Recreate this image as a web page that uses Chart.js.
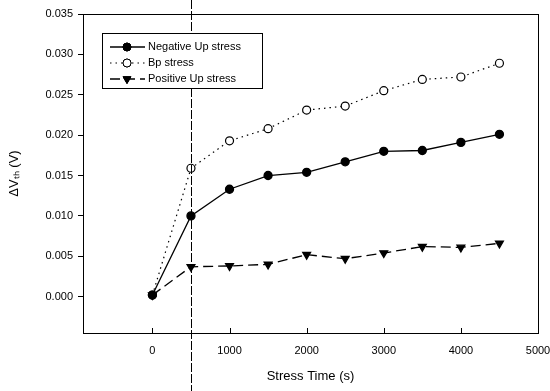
<!DOCTYPE html>
<html>
<head>
<meta charset="utf-8">
<script src="https://cdn.jsdelivr.net/npm/chart.js@4/dist/chart.umd.min.js"></script>
<style>
  html, body { margin: 0; padding: 0; background: #fff; }
  #wrap { width: 550px; height: 391px; position: relative; }
</style>
</head>
<body>
<div id="wrap"><canvas id="c"></canvas></div>
<script>
// Stress times (s)
const stressTimes = [0, 500, 1000, 1500, 2000, 2500, 3000, 3500, 4000, 4500];
// Delta Vth (V) per stress type
const negativeUp = [0.0002, 0.0100, 0.0133, 0.0150, 0.0154, 0.0167, 0.0180, 0.0181, 0.0191, 0.0201];
const bpStress = [0.0002, 0.0159, 0.0193, 0.0208, 0.0231, 0.0236, 0.0255, 0.0269, 0.0272, 0.0289];
const positiveUp = [0.0002, 0.0037, 0.0038, 0.0040, 0.0052, 0.0047, 0.0054, 0.0062, 0.0061, 0.0066];
const seriesLabels = ['Negative Up stress', 'Bp stress', 'Positive Up stress'];
const xTicks = [0, 1000, 2000, 3000, 4000, 5000];
const yTicks = [0, 0.005, 0.010, 0.015, 0.020, 0.025, 0.030, 0.035];
const markerTime = 500; // vertical reference line

const FONT = "'Liberation Sans', Arial, sans-serif";

const toPoints = (vals) => stressTimes.map((t, i) => ({ x: t, y: vals[i] }));

// Vertical dashed line across the whole picture at t = 500 s
const markerLine = {
  id: 'markerLine',
  afterDraw(chart) {
    const ctx = chart.ctx;
    const x = Math.round(chart.scales.x.getPixelForValue(markerTime)) + 0.5;
    ctx.save();
    ctx.strokeStyle = '#000';
    ctx.lineWidth = 1;
    ctx.setLineDash([9, 2]);
    ctx.beginPath();
    ctx.moveTo(x, 0);
    ctx.lineTo(x, chart.height);
    ctx.stroke();
    ctx.restore();
  }
};

// Frame + inward x ticks
const frame = {
  id: 'frame',
  afterDraw(chart) {
    const { ctx, chartArea: a } = chart;
    ctx.save();
    ctx.strokeStyle = '#000';
    ctx.lineWidth = 1;
    ctx.strokeRect(a.left + 0.5, a.top + 0.5, a.right - a.left, a.bottom - a.top);
    const xs = chart.scales.x;
    ctx.beginPath();
    xTicks.forEach(v => {
      const px = Math.round(xs.getPixelForValue(v)) + 0.5;
      ctx.moveTo(px, a.bottom);
      ctx.lineTo(px, a.bottom - 5);
    });
    ctx.stroke();
    ctx.restore();
  }
};

// Legend box inside the plot, drawn with each dataset's own style
const boxLegend = {
  id: 'boxLegend',
  afterDraw(chart) {
    const ctx = chart.ctx;
    const left = 102, top = 33, w = 160, h = 55;
    ctx.save();
    ctx.fillStyle = '#fff';
    ctx.fillRect(left, top, w, h);
    ctx.strokeStyle = '#000';
    ctx.lineWidth = 1;
    ctx.setLineDash([]);
    ctx.strokeRect(left + 0.5, top + 0.5, w, h);
    chart.data.datasets.forEach((ds, i) => {
      const y = 47 + i * 16;
      ctx.save();
      ctx.strokeStyle = '#000';
      ctx.lineWidth = ds.borderWidth;
      ctx.setLineDash(ds.borderDash || []);
      ctx.beginPath();
      ctx.moveTo(110, y);
      ctx.lineTo(145, y);
      ctx.stroke();
      ctx.restore();
      Chart.helpers.drawPoint(ctx, {
        pointStyle: ds.pointStyle,
        radius: ds.pointRadius,
        rotation: ds.pointRotation || 0,
        borderWidth: 1
      }, 127, y);
      ctx.fillStyle = ds.pointBackgroundColor;
      ctx.strokeStyle = '#000';
      ctx.fill();
      ctx.stroke();
      ctx.fillStyle = '#000';
      ctx.font = '11px ' + FONT;
      ctx.textBaseline = 'middle';
      ctx.fillText(ds.label, 148, y);
    });
    ctx.restore();
  }
};

new Chart(document.getElementById('c'), {
  type: 'line',
  data: {
    datasets: [
      {
        label: seriesLabels[0],
        data: toPoints(negativeUp),
        borderColor: '#000',
        borderWidth: 1.3,
        pointStyle: 'circle',
        pointRadius: 4,
        pointBackgroundColor: '#000',
        pointBorderColor: '#000',
        tension: 0
      },
      {
        label: seriesLabels[1],
        data: toPoints(bpStress),
        borderColor: '#000',
        borderWidth: 1.2,
        borderDash: [1.5, 4],
        pointStyle: 'circle',
        pointRadius: 4,
        pointBackgroundColor: '#fff',
        pointBorderColor: '#000',
        pointBorderWidth: 1.2,
        tension: 0
      },
      {
        label: seriesLabels[2],
        data: toPoints(positiveUp),
        borderColor: '#000',
        borderWidth: 1.3,
        borderDash: [10, 5],
        pointStyle: 'triangle',
        pointRotation: 180,
        pointRadius: 4.5,
        pointBackgroundColor: '#000',
        pointBorderColor: '#000',
        tension: 0
      }
    ]
  },
  options: {
    responsive: true,
    maintainAspectRatio: false,
    animation: false,
    layout: { padding: { top: 14, right: 12, left: 0, bottom: 0 } },
    scales: {
      x: {
        type: 'linear',
        min: -900,
        max: 5000,
        afterFit: (s) => { s.height = 58; s.paddingLeft = 0; s.paddingRight = 0; },
        afterBuildTicks: (s) => { s.ticks = xTicks.map(v => ({ value: v })); },
        grid: { display: false, drawTicks: false },
        border: { display: false },
        ticks: {
          padding: 11,
          maxRotation: 0,
          color: '#000',
          font: { family: FONT, size: 11 },
          callback: (v) => String(v)
        },
        title: {
          display: true,
          text: 'Stress Time (s)',
          color: '#000',
          font: { family: FONT, size: 13 },
          padding: { top: 0, bottom: 7 }
        }
      },
      y: {
        min: -0.0045,
        max: 0.035,
        afterFit: (s) => { s.width = 83; s.paddingTop = 0; s.paddingBottom = 0; },
        afterBuildTicks: (s) => { s.ticks = yTicks.map(v => ({ value: v })); },
        grid: { drawOnChartArea: false, drawTicks: true, tickLength: 5, color: '#000' },
        border: { display: false },
        ticks: {
          padding: 5,
          color: '#000',
          font: { family: FONT, size: 11 },
          callback: (v) => Number(v).toFixed(3)
        },
        title: {
          display: true,
          text: 'ΔVₜₕ (V)',
          color: '#000',
          font: { family: FONT, size: 13 },
          padding: { top: 7, bottom: 0 }
        }
      }
    },
    plugins: {
      legend: { display: false },
      tooltip: { enabled: false }
    }
  },
  plugins: [frame, markerLine, boxLegend]
});
</script>
</body>
</html>
